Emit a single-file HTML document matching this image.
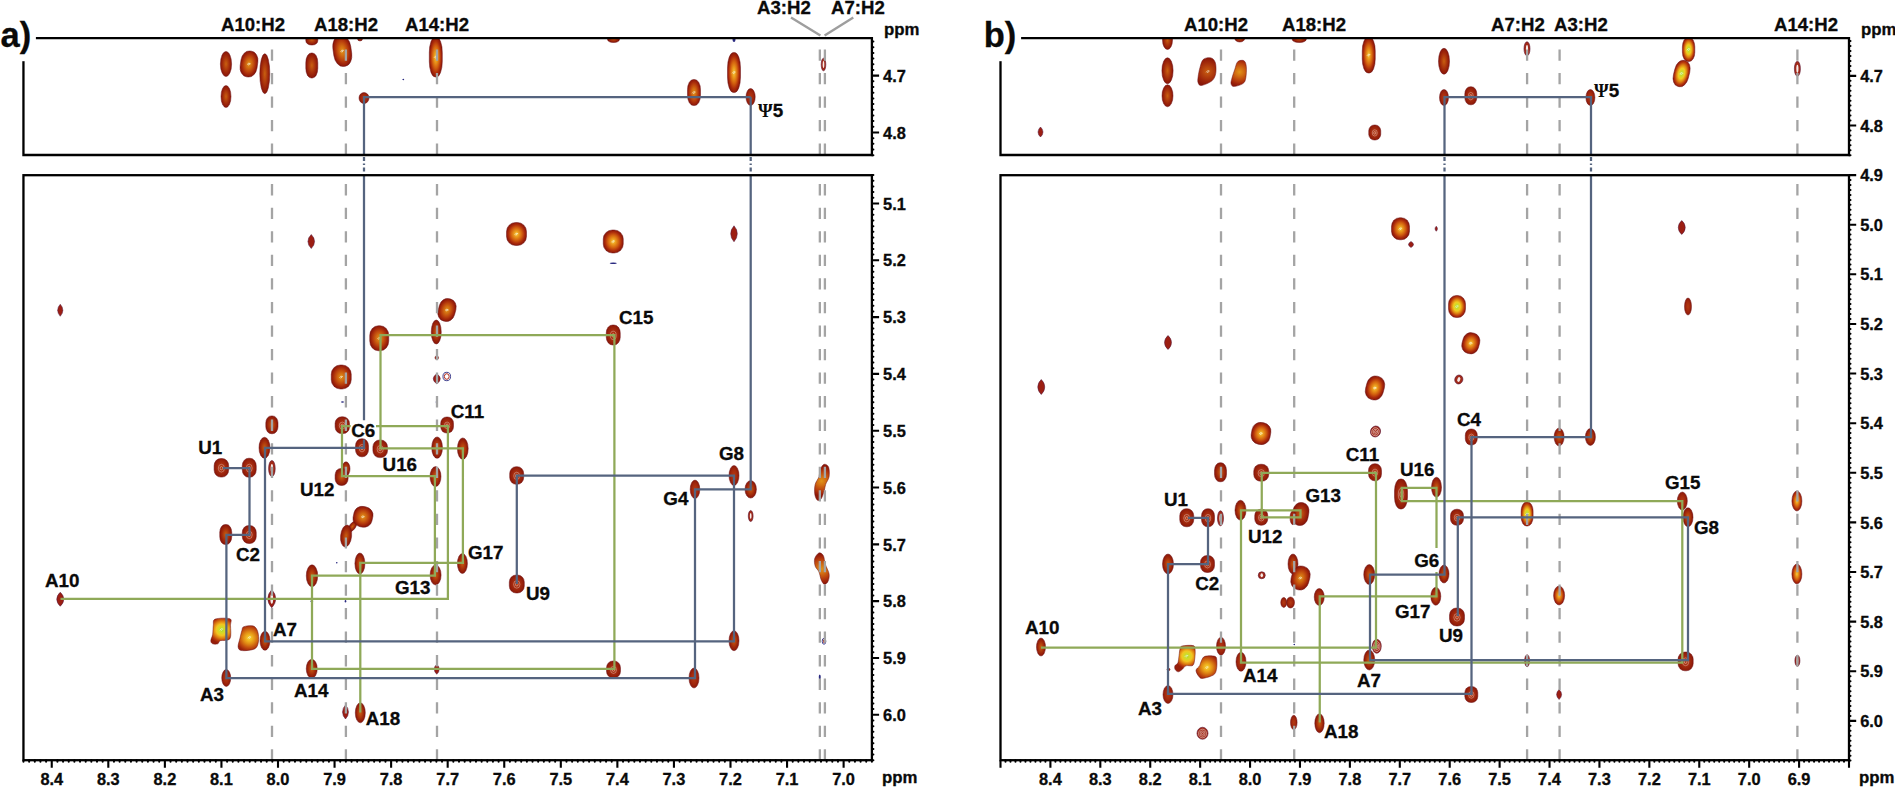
<!DOCTYPE html>
<html lang="en"><head><meta charset="utf-8"><title>NOESY sequential walk</title>
<style>html,body{margin:0;padding:0;background:#fff;}svg{display:block;}text{font-family:"Liberation Sans",sans-serif;font-weight:bold;fill:#0a0a0a;stroke:#0a0a0a;stroke-width:0.3px;}.psi{font-family:"Liberation Serif","DejaVu Serif",serif;font-weight:bold;stroke-width:0;}</style></head><body>
<svg width="1895" height="787" viewBox="0 0 1895 787">
<defs>
<radialGradient id="gd" cx="50%" cy="50%" r="50%"><stop offset="0" stop-color="#b43a12"/><stop offset="0.55" stop-color="#a42a0e"/><stop offset="1" stop-color="#8c1908"/></radialGradient>
<radialGradient id="gm" cx="50%" cy="50%" r="50%"><stop offset="0" stop-color="#c8600f"/><stop offset="0.32" stop-color="#b6440e"/><stop offset="0.7" stop-color="#9e260a"/><stop offset="1" stop-color="#881608"/></radialGradient>
<radialGradient id="go" cx="50%" cy="50%" r="50%"><stop offset="0" stop-color="#e09418"/><stop offset="0.3" stop-color="#d26e12"/><stop offset="0.6" stop-color="#bc440d"/><stop offset="0.85" stop-color="#a0240a"/><stop offset="1" stop-color="#8c1908"/></radialGradient>
<radialGradient id="gb" cx="50%" cy="50%" r="50%"><stop offset="0" stop-color="#f4cc40"/><stop offset="0.25" stop-color="#ea9a1c"/><stop offset="0.55" stop-color="#d2600f"/><stop offset="0.82" stop-color="#ab2a0b"/><stop offset="1" stop-color="#8c1908"/></radialGradient>
<radialGradient id="gy" cx="50%" cy="50%" r="50%"><stop offset="0" stop-color="#a6d628"/><stop offset="0.18" stop-color="#c8de2c"/><stop offset="0.4" stop-color="#f0cc20"/><stop offset="0.62" stop-color="#e08812"/><stop offset="0.85" stop-color="#b8380c"/><stop offset="1" stop-color="#961e0a"/></radialGradient>
<radialGradient id="gy2" cx="50%" cy="50%" r="50%"><stop offset="0" stop-color="#a8d428"/><stop offset="0.2" stop-color="#d0dc28"/><stop offset="0.42" stop-color="#f2c420"/><stop offset="0.62" stop-color="#e08412"/><stop offset="0.85" stop-color="#b8380c"/><stop offset="1" stop-color="#961e0a"/></radialGradient>
<radialGradient id="gb2" cx="50%" cy="50%" r="50%"><stop offset="0" stop-color="#f2d030"/><stop offset="0.2" stop-color="#f0b820"/><stop offset="0.45" stop-color="#e08a14"/><stop offset="0.75" stop-color="#c04a0e"/><stop offset="1" stop-color="#9a200a"/></radialGradient>
</defs>
<rect width="1895" height="787" fill="#fff"/>
<clipPath id="cta"><rect x="23.45" y="38.2" width="848.45" height="116.8"/></clipPath>
<clipPath id="cba"><rect x="23.45" y="175.2" width="848.45" height="585"/></clipPath>
<g clip-path="url(#cta)">
<ellipse cx="226" cy="64" rx="5.6" ry="12.5" fill="url(#gm)" stroke="#6e1218" stroke-width="0.5"/>
<rect x="240.5" y="51" width="17" height="26" rx="7.65" ry="10.14" fill="url(#go)" stroke="#6e1218" stroke-width="0.5" transform="rotate(8 249 64)"/><path d="M247.2 64.8q1.2 -2.6 3.4 -1.2M248.2 65.2l1.6 -1" stroke="#fff" stroke-width="0.7" fill="none" opacity="0.85" transform="rotate(8 249 64)"/>
<ellipse cx="264.8" cy="73.7" rx="5" ry="20" fill="url(#gm)" stroke="#6e1218" stroke-width="0.5"/>
<ellipse cx="226" cy="96.5" rx="5" ry="11" fill="url(#gm)" stroke="#6e1218" stroke-width="0.5"/>
<rect x="305.8" y="34" width="12" height="11" rx="5.4" ry="4.29" fill="url(#gm)" stroke="#6e1218" stroke-width="0.5"/>
<rect x="305.8" y="53" width="12" height="25" rx="5.4" ry="9.75" fill="url(#gm)" stroke="#6e1218" stroke-width="0.5"/>
<rect x="333.3" y="35.5" width="18" height="31" rx="8.1" ry="12.09" fill="url(#go)" stroke="#6e1218" stroke-width="0.5" transform="rotate(-8 342.3 51)"/><path d="M340.5 51.8q1.2 -2.6 3.4 -1.2M341.5 52.2l1.6 -1" stroke="#fff" stroke-width="0.7" fill="none" opacity="0.85" transform="rotate(-8 342.3 51)"/>
<ellipse cx="360" cy="38.5" rx="2.5" ry="2.5" fill="url(#gd)" stroke="#6e1218" stroke-width="0.5"/>
<rect x="429.3" y="37" width="13" height="40" rx="5.85" ry="15.6" fill="url(#gb)" stroke="#6e1218" stroke-width="0.5"/><path d="M434 57.8q1.2 -2.6 3.4 -1.2M435 58.2l1.6 -1" stroke="#fff" stroke-width="0.7" fill="none" opacity="0.85"/>
<ellipse cx="364" cy="98" rx="5" ry="5.5" fill="url(#gd)" stroke="#6e1218" stroke-width="0.5"/>
<ellipse cx="403.3" cy="79.5" rx="0.9" ry="0.7" fill="#2a2a80"/>
<rect x="607.5" y="34.5" width="12" height="8" rx="5.4" ry="3.12" fill="url(#gm)" stroke="#6e1218" stroke-width="0.5"/>
<ellipse cx="734" cy="39" rx="1.5" ry="3" fill="#2a2a80"/>
<rect x="727.5" y="52.5" width="13" height="40" rx="5.85" ry="15.6" fill="url(#gb)" stroke="#6e1218" stroke-width="0.5"/><path d="M732.2 73.3q1.2 -2.6 3.4 -1.2M733.2 73.7l1.6 -1" stroke="#fff" stroke-width="0.7" fill="none" opacity="0.85"/>
<rect x="687.5" y="79.5" width="13" height="26" rx="5.85" ry="10.14" fill="url(#go)" stroke="#6e1218" stroke-width="0.5"/><path d="M692.2 93.3q1.2 -2.6 3.4 -1.2M693.2 93.7l1.6 -1" stroke="#fff" stroke-width="0.7" fill="none" opacity="0.85"/>
<ellipse cx="750.6" cy="97" rx="4.6" ry="8.5" fill="url(#gd)" stroke="#6e1218" stroke-width="0.5"/>
<g><ellipse cx="823.5" cy="64.5" rx="2.3" ry="6.3" fill="#a22a18" stroke="#5a1230" stroke-width="0.6"/><ellipse cx="823.5" cy="64.5" rx="0.83" ry="3.47" fill="#fff" opacity="0.9"/></g>
</g>
<g clip-path="url(#cba)">
<path d="M311.25 234.5Q314.55 237.65 314.55 241.5Q314.55 245.35 311.25 248.5Q307.95 245.35 307.95 241.5Q307.95 237.65 311.25 234.5Z" fill="#9c1e12" stroke="#4a1440" stroke-width="0.5"/>
<path d="M60.25 304.25Q62.85 306.95 62.85 310.25Q62.85 313.55 60.25 316.25Q57.65 313.55 57.65 310.25Q57.65 306.95 60.25 304.25Z" fill="#9c1e12" stroke="#4a1440" stroke-width="0.5"/>
<rect x="438.5" y="298.5" width="17" height="23" rx="7.65" ry="8.97" fill="url(#go)" stroke="#6e1218" stroke-width="0.5" transform="rotate(15 447 310)"/><path d="M445.2 310.8q1.2 -2.6 3.4 -1.2M446.2 311.2l1.6 -1" stroke="#fff" stroke-width="0.7" fill="none" opacity="0.85" transform="rotate(15 447 310)"/>
<ellipse cx="436.25" cy="332" rx="5" ry="12" fill="url(#gm)" stroke="#6e1218" stroke-width="0.5"/>
<rect x="369.75" y="325.75" width="19" height="25" rx="8.55" ry="9.75" fill="url(#go)" stroke="#6e1218" stroke-width="0.5"/><path d="M377.45 339.05q1.2 -2.6 3.4 -1.2M378.45 339.45l1.6 -1" stroke="#fff" stroke-width="0.7" fill="none" opacity="0.85"/>
<rect x="331.25" y="365" width="20" height="24" rx="9" ry="9.36" fill="url(#go)" stroke="#6e1218" stroke-width="0.5"/><path d="M339.45 377.8q1.2 -2.6 3.4 -1.2M340.45 378.2l1.6 -1" stroke="#fff" stroke-width="0.7" fill="none" opacity="0.85"/>
<ellipse cx="436.75" cy="357.75" rx="1.8" ry="1.8" fill="url(#gd)" stroke="#6e1218" stroke-width="0.5"/>
<path d="M436.75 373.75Q440.25 376 440.25 378.75Q440.25 381.5 436.75 383.75Q433.25 381.5 433.25 378.75Q433.25 376 436.75 373.75Z" fill="#9c1e12" stroke="#4a1440" stroke-width="0.5"/>
<g><ellipse cx="446.75" cy="376.5" rx="3.8" ry="4.2" fill="#fff" stroke="#2a2a80" stroke-width="0.9"/><ellipse cx="446.75" cy="376.5" rx="2.4" ry="2.8" fill="#fff" stroke="#b02818" stroke-width="1"/></g>
<rect x="506.5" y="222.5" width="20" height="23" rx="9" ry="8.97" fill="url(#gb)" stroke="#6e1218" stroke-width="0.5"/><path d="M514.7 234.8q1.2 -2.6 3.4 -1.2M515.7 235.2l1.6 -1" stroke="#fff" stroke-width="0.7" fill="none" opacity="0.85"/>
<rect x="603.25" y="230" width="20" height="23" rx="9" ry="8.97" fill="url(#gb)" stroke="#6e1218" stroke-width="0.5"/><path d="M611.45 242.3q1.2 -2.6 3.4 -1.2M612.45 242.7l1.6 -1" stroke="#fff" stroke-width="0.7" fill="none" opacity="0.85"/>
<ellipse cx="613.25" cy="263.25" rx="3.5" ry="0.7" fill="#2a2a80"/>
<path d="M734 225.75Q737.3 229.35 737.3 233.75Q737.3 238.15 734 241.75Q730.7 238.15 730.7 233.75Q730.7 229.35 734 225.75Z" fill="#9c1e12" stroke="#4a1440" stroke-width="0.5"/>
<rect x="606.25" y="325" width="14" height="20" rx="6.3" ry="7.8" fill="url(#gd)" stroke="#6e1218" stroke-width="0.5"/><ellipse cx="613.25" cy="335.4" rx="2.94" ry="4.2" fill="none" stroke="#fff" stroke-width="0.55" opacity="0.6"/><ellipse cx="613.25" cy="335.4" rx="1.26" ry="1.8" fill="none" stroke="#fff" stroke-width="0.55" opacity="0.7"/>
<rect x="265.8" y="415.9" width="12.2" height="17.8" rx="5.49" ry="6.94" fill="url(#gm)" stroke="#6e1218" stroke-width="0.5"/>
<rect x="335.1" y="416.8" width="14.4" height="16.8" rx="6.48" ry="6.55" fill="url(#gd)" stroke="#6e1218" stroke-width="0.5"/><ellipse cx="342.3" cy="425.6" rx="3.02" ry="3.53" fill="none" stroke="#fff" stroke-width="0.55" opacity="0.6"/><ellipse cx="342.3" cy="425.6" rx="1.3" ry="1.51" fill="none" stroke="#fff" stroke-width="0.55" opacity="0.7"/>
<rect x="440.7" y="417" width="12.8" height="16" rx="5.76" ry="6.24" fill="url(#gd)" stroke="#6e1218" stroke-width="0.5"/><ellipse cx="447.1" cy="425.4" rx="2.69" ry="3.36" fill="none" stroke="#fff" stroke-width="0.55" opacity="0.6"/><ellipse cx="447.1" cy="425.4" rx="1.15" ry="1.44" fill="none" stroke="#fff" stroke-width="0.55" opacity="0.7"/>
<ellipse cx="264.5" cy="447.75" rx="5.5" ry="10.5" fill="url(#gm)" stroke="#6e1218" stroke-width="0.5"/>
<rect x="355.5" y="438.75" width="13" height="18" rx="5.85" ry="7.02" fill="url(#gd)" stroke="#6e1218" stroke-width="0.5"/><ellipse cx="362" cy="448.15" rx="2.73" ry="3.78" fill="none" stroke="#fff" stroke-width="0.55" opacity="0.6"/><ellipse cx="362" cy="448.15" rx="1.17" ry="1.62" fill="none" stroke="#fff" stroke-width="0.55" opacity="0.7"/>
<rect x="372.9" y="440" width="14.6" height="17.6" rx="6.57" ry="6.86" fill="url(#gd)" stroke="#6e1218" stroke-width="0.5"/><ellipse cx="380.2" cy="449.2" rx="3.07" ry="3.7" fill="none" stroke="#fff" stroke-width="0.55" opacity="0.6"/><ellipse cx="380.2" cy="449.2" rx="1.31" ry="1.58" fill="none" stroke="#fff" stroke-width="0.55" opacity="0.7"/>
<ellipse cx="437.1" cy="447.6" rx="5.4" ry="10.7" fill="url(#gm)" stroke="#6e1218" stroke-width="0.5"/>
<ellipse cx="462.8" cy="448.6" rx="5.4" ry="10.7" fill="url(#gm)" stroke="#6e1218" stroke-width="0.5"/>
<rect x="214.1" y="458.5" width="14.6" height="18.6" rx="6.57" ry="7.25" fill="url(#gd)" stroke="#6e1218" stroke-width="0.5"/><ellipse cx="221.4" cy="468.2" rx="3.07" ry="3.91" fill="none" stroke="#fff" stroke-width="0.55" opacity="0.6"/><ellipse cx="221.4" cy="468.2" rx="1.31" ry="1.67" fill="none" stroke="#fff" stroke-width="0.55" opacity="0.7"/>
<rect x="242.25" y="458.25" width="14" height="19" rx="6.3" ry="7.41" fill="url(#gd)" stroke="#6e1218" stroke-width="0.5"/><ellipse cx="249.25" cy="468.15" rx="2.94" ry="3.99" fill="none" stroke="#fff" stroke-width="0.55" opacity="0.6"/><ellipse cx="249.25" cy="468.15" rx="1.26" ry="1.71" fill="none" stroke="#fff" stroke-width="0.55" opacity="0.7"/>
<g><ellipse cx="271.9" cy="468.5" rx="3.3" ry="8" fill="#a22a18" stroke="#5a1230" stroke-width="0.6"/><ellipse cx="271.9" cy="468.5" rx="1.19" ry="4.4" fill="#fff" opacity="0.9"/></g>
<ellipse cx="346" cy="468.8" rx="4" ry="7" fill="url(#gm)" stroke="#6e1218" stroke-width="0.5"/>
<rect x="335.1" y="468.4" width="13" height="17" rx="5.85" ry="6.63" fill="url(#gm)" stroke="#6e1218" stroke-width="0.5"/>
<ellipse cx="435.5" cy="476.6" rx="5.5" ry="10" fill="url(#gm)" stroke="#6e1218" stroke-width="0.5"/>
<ellipse cx="352.5" cy="526.5" rx="3" ry="6" fill="url(#gm)" stroke="#6e1218" stroke-width="0.5" transform="rotate(35 352.5 526.5)"/>
<rect x="353.4" y="506.5" width="19.2" height="20.6" rx="8.64" ry="8.03" fill="url(#go)" stroke="#6e1218" stroke-width="0.5" transform="rotate(12 363 516.8)"/><path d="M361.2 517.6q1.2 -2.6 3.4 -1.2M362.2 518l1.6 -1" stroke="#fff" stroke-width="0.7" fill="none" opacity="0.85" transform="rotate(12 363 516.8)"/>
<ellipse cx="346.1" cy="536" rx="5.5" ry="11" fill="url(#gm)" stroke="#6e1218" stroke-width="0.5" transform="rotate(6 346.1 536)"/>
<rect x="219.75" y="524.5" width="12" height="20" rx="5.4" ry="7.8" fill="url(#gm)" stroke="#6e1218" stroke-width="0.5"/>
<rect x="242.25" y="525.5" width="14" height="18" rx="6.3" ry="7.02" fill="url(#gd)" stroke="#6e1218" stroke-width="0.5"/><ellipse cx="249.25" cy="534.9" rx="2.94" ry="3.78" fill="none" stroke="#fff" stroke-width="0.55" opacity="0.6"/><ellipse cx="249.25" cy="534.9" rx="1.26" ry="1.62" fill="none" stroke="#fff" stroke-width="0.55" opacity="0.7"/>
<ellipse cx="359.9" cy="563.5" rx="5" ry="10.5" fill="url(#gm)" stroke="#6e1218" stroke-width="0.5"/>
<ellipse cx="462.4" cy="563.5" rx="5" ry="10" fill="url(#gm)" stroke="#6e1218" stroke-width="0.5"/>
<ellipse cx="312" cy="575.8" rx="5.7" ry="11" fill="url(#gm)" stroke="#6e1218" stroke-width="0.5"/>
<ellipse cx="435.6" cy="575" rx="5.5" ry="10" fill="url(#gm)" stroke="#6e1218" stroke-width="0.5"/>
<ellipse cx="336.75" cy="562.75" rx="0.8" ry="0.8" fill="#2a2a80"/>
<ellipse cx="342.5" cy="402" rx="1.5" ry="0.7" fill="#2a2a80"/>
<ellipse cx="436.75" cy="402" rx="1" ry="1.5" fill="#2a2a80"/>
<path d="M271.75 589.75Q275.75 593.8 275.75 598.75Q275.75 603.7 271.75 607.75Q267.75 603.7 267.75 598.75Q267.75 593.8 271.75 589.75Z" fill="#9c1e12" stroke="#4a1440" stroke-width="0.5"/><ellipse cx="271.75" cy="598.75" rx="1.4" ry="4.95" fill="#fff" opacity="0.9"/>
<rect x="509.7" y="466.7" width="14" height="17.6" rx="6.3" ry="6.86" fill="url(#gd)" stroke="#6e1218" stroke-width="0.5"/><ellipse cx="516.7" cy="475.9" rx="2.94" ry="3.7" fill="none" stroke="#fff" stroke-width="0.55" opacity="0.6"/><ellipse cx="516.7" cy="475.9" rx="1.26" ry="1.58" fill="none" stroke="#fff" stroke-width="0.55" opacity="0.7"/>
<ellipse cx="734" cy="475.5" rx="5" ry="10" fill="url(#gd)" stroke="#6e1218" stroke-width="0.5"/>
<ellipse cx="695" cy="489.3" rx="4.8" ry="9.2" fill="url(#gd)" stroke="#6e1218" stroke-width="0.5"/>
<ellipse cx="750.7" cy="489.3" rx="5.7" ry="8.8" fill="url(#gm)" stroke="#6e1218" stroke-width="0.5"/>
<g><ellipse cx="750.7" cy="516" rx="2.4" ry="5.5" fill="#a22a18" stroke="#5a1230" stroke-width="0.6"/><ellipse cx="750.7" cy="516" rx="0.86" ry="3.03" fill="#fff" opacity="0.9"/></g>
<path d="M824.2 464.3C825.57 463.98 827.78 465.03 828.6 467.1C829.42 469.17 829.58 473.83 829.1 476.7C828.62 479.57 826.52 481.92 825.7 484.3C824.88 486.68 824.98 488.53 824.2 491C823.42 493.47 822.18 497.62 821 499.1C819.82 500.58 818.15 500.78 817.1 499.9C816.05 499.02 815.02 496.4 814.7 493.8C814.38 491.2 814.48 487.15 815.2 484.3C815.92 481.45 818.13 479.25 819 476.7C819.87 474.15 819.53 471.07 820.4 469C821.27 466.93 822.83 464.62 824.2 464.3Z" fill="url(#pg0)" stroke="#6e1218" stroke-width="0.5"/>
<path d="M819 552.9C820.45 552.42 822.35 553.8 823.4 555.7C824.45 557.6 824.35 561.28 825.3 564.3C826.25 567.32 828.65 570.95 829.1 573.8C829.55 576.65 828.82 579.65 828 581.4C827.18 583.15 825.37 584.62 824.2 584.3C823.03 583.98 821.87 581.57 821 579.5C820.13 577.43 819.97 574.12 819 571.9C818.03 569.68 815.92 568.42 815.2 566.2C814.48 563.98 814.07 560.82 814.7 558.6C815.33 556.38 817.55 553.38 819 552.9Z" fill="url(#pg1)" stroke="#6e1218" stroke-width="0.5"/>
<rect x="509.3" y="575" width="15" height="18" rx="6.75" ry="7.02" fill="url(#gd)" stroke="#6e1218" stroke-width="0.5"/><ellipse cx="516.8" cy="584.4" rx="3.15" ry="3.78" fill="none" stroke="#fff" stroke-width="0.55" opacity="0.6"/><ellipse cx="516.8" cy="584.4" rx="1.35" ry="1.62" fill="none" stroke="#fff" stroke-width="0.55" opacity="0.7"/>
<path d="M60.25 592.25Q63.75 595.4 63.75 599.25Q63.75 603.1 60.25 606.25Q56.75 603.1 56.75 599.25Q56.75 595.4 60.25 592.25Z" fill="#9c1e12" stroke="#4a1440" stroke-width="0.5"/>
<path d="M215.2 619.1C217.97 618 227.35 617.75 229.9 618.8C232.45 619.85 230.5 622.07 230.5 625.4C230.5 628.73 231.6 636.25 229.9 638.8C228.2 641.35 222.32 639.87 220.3 640.7C218.28 641.53 219.07 643.28 217.8 643.8C216.53 644.32 213.87 644.32 212.7 643.8C211.53 643.28 210.8 642.28 210.8 640.7C210.8 639.12 212.28 636.85 212.7 634.3C213.12 631.75 212.88 627.93 213.3 625.4C213.72 622.87 212.43 620.2 215.2 619.1Z" fill="url(#pg2)" stroke="#6e1218" stroke-width="0.5"/><path d="M219.8 630.3q1.2 -2.6 3.4 -1.2M220.8 630.7l1.6 -1" stroke="#fff" stroke-width="0.7" fill="none" opacity="0.85"/>
<path d="M243.8 626.7C245.72 625.95 251.07 625.15 253.4 626C255.73 626.85 256.97 629.15 257.8 631.8C258.63 634.45 258.93 639.05 258.4 641.9C257.87 644.75 257.35 647.45 254.6 648.9C251.85 650.35 244.65 650.92 241.9 650.6C239.15 650.28 238.42 649.08 238.1 647C237.78 644.92 239.37 640.85 240 638.1C240.63 635.35 241.27 632.4 241.9 630.5C242.53 628.6 241.88 627.45 243.8 626.7Z" fill="url(#pg3)" stroke="#6e1218" stroke-width="0.5"/><path d="M247.7 638.3q1.2 -2.6 3.4 -1.2M248.7 638.7l1.6 -1" stroke="#fff" stroke-width="0.7" fill="none" opacity="0.85"/>
<ellipse cx="265" cy="640.75" rx="5" ry="9.5" fill="url(#gm)" stroke="#6e1218" stroke-width="0.5"/>
<ellipse cx="311.75" cy="668.75" rx="5.5" ry="9.5" fill="url(#gm)" stroke="#6e1218" stroke-width="0.5"/>
<ellipse cx="226.25" cy="678" rx="4.5" ry="8.5" fill="url(#gd)" stroke="#6e1218" stroke-width="0.5"/>
<ellipse cx="360.3" cy="712.8" rx="5" ry="10" fill="url(#gm)" stroke="#6e1218" stroke-width="0.5"/>
<path d="M345.5 705Q348.5 708.15 348.5 712Q348.5 715.85 345.5 719Q342.5 715.85 342.5 712Q342.5 708.15 345.5 705Z" fill="#9c1e12" stroke="#4a1440" stroke-width="0.5"/>
<path d="M436.75 664.25Q439.25 666.5 439.25 669.25Q439.25 672 436.75 674.25Q434.25 672 434.25 669.25Q434.25 666.5 436.75 664.25Z" fill="#9c1e12" stroke="#4a1440" stroke-width="0.5"/>
<ellipse cx="311.75" cy="601.25" rx="1.5" ry="0.7" fill="#2a2a80"/>
<ellipse cx="345.5" cy="601.25" rx="0.8" ry="1.2" fill="#2a2a80"/>
<rect x="606.5" y="661" width="14" height="17" rx="6.3" ry="6.63" fill="url(#gd)" stroke="#6e1218" stroke-width="0.5"/><ellipse cx="613.5" cy="669.9" rx="2.94" ry="3.57" fill="none" stroke="#fff" stroke-width="0.55" opacity="0.6"/><ellipse cx="613.5" cy="669.9" rx="1.26" ry="1.53" fill="none" stroke="#fff" stroke-width="0.55" opacity="0.7"/>
<ellipse cx="734" cy="640.75" rx="5" ry="10" fill="url(#gm)" stroke="#6e1218" stroke-width="0.5"/>
<ellipse cx="694" cy="678" rx="5" ry="10" fill="url(#gd)" stroke="#6e1218" stroke-width="0.5"/>
<g><ellipse cx="824" cy="641.25" rx="1.8" ry="3" fill="#fff" stroke="#2a2a80" stroke-width="0.9"/><ellipse cx="824" cy="641.25" rx="0.5" ry="1.6" fill="#fff" stroke="#b02818" stroke-width="1"/></g>
<ellipse cx="819.75" cy="677" rx="1" ry="2.5" fill="#2a2a80"/>
</g>
<g stroke="#a4a4a4" stroke-width="2.3" fill="none">
<path d="M272.0 49.4V60.7M272.0 73.0V84.2M272.0 96.5V107.8M272.0 120.0V131.3M272.0 143.6V154.9M272.0 184.1V195.4M272.0 207.7V219.0M272.0 231.2V242.5M272.0 254.8V266.1M272.0 278.3V289.6M272.0 301.9V313.2M272.0 325.4V336.7M272.0 349.0V360.3M272.0 372.5V383.8M272.0 396.1V407.4M272.0 419.6V430.9M272.0 443.2V454.5M272.0 466.7V478.0M272.0 490.3V501.6M272.0 513.8V525.1M272.0 537.4V548.6M272.0 560.9V572.2M272.0 584.4V595.7M272.0 608.0V619.3M272.0 631.5V642.8M272.0 655.1V666.4M272.0 678.6V689.9M272.0 702.2V713.5M272.0 725.7V737.0M272.0 749.3V760.2"/>
<path d="M345.9 49.4V60.7M345.9 73.0V84.2M345.9 96.5V107.8M345.9 120.0V131.3M345.9 143.6V154.9M345.9 184.1V195.4M345.9 207.7V219.0M345.9 231.2V242.5M345.9 254.8V266.1M345.9 278.3V289.6M345.9 301.9V313.2M345.9 325.4V336.7M345.9 349.0V360.3M345.9 372.5V383.8M345.9 396.1V407.4M345.9 419.6V430.9M345.9 443.2V454.5M345.9 466.7V478.0M345.9 490.3V501.6M345.9 513.8V525.1M345.9 537.4V548.6M345.9 560.9V572.2M345.9 584.4V595.7M345.9 608.0V619.3M345.9 631.5V642.8M345.9 655.1V666.4M345.9 678.6V689.9M345.9 702.2V713.5M345.9 725.7V737.0M345.9 749.3V760.2"/>
<path d="M437.0 49.4V60.7M437.0 73.0V84.2M437.0 96.5V107.8M437.0 120.0V131.3M437.0 143.6V154.9M437.0 184.1V195.4M437.0 207.7V219.0M437.0 231.2V242.5M437.0 254.8V266.1M437.0 278.3V289.6M437.0 301.9V313.2M437.0 325.4V336.7M437.0 349.0V360.3M437.0 372.5V383.8M437.0 396.1V407.4M437.0 419.6V430.9M437.0 443.2V454.5M437.0 466.7V478.0M437.0 490.3V501.6M437.0 513.8V525.1M437.0 537.4V548.6M437.0 560.9V572.2M437.0 584.4V595.7M437.0 608.0V619.3M437.0 631.5V642.8M437.0 655.1V666.4M437.0 678.6V689.9M437.0 702.2V713.5M437.0 725.7V737.0M437.0 749.3V760.2"/>
<path d="M819.85 49.4V60.7M819.85 73.0V84.2M819.85 96.5V107.8M819.85 120.0V131.3M819.85 143.6V154.9M819.85 184.1V195.4M819.85 207.7V219.0M819.85 231.2V242.5M819.85 254.8V266.1M819.85 278.3V289.6M819.85 301.9V313.2M819.85 325.4V336.7M819.85 349.0V360.3M819.85 372.5V383.8M819.85 396.1V407.4M819.85 419.6V430.9M819.85 443.2V454.5M819.85 466.7V478.0M819.85 490.3V501.6M819.85 513.8V525.1M819.85 537.4V548.6M819.85 560.9V572.2M819.85 584.4V595.7M819.85 608.0V619.3M819.85 631.5V642.8M819.85 655.1V666.4M819.85 678.6V689.9M819.85 702.2V713.5M819.85 725.7V737.0M819.85 749.3V760.2"/>
<path d="M824.9 49.4V60.7M824.9 73.0V84.2M824.9 96.5V107.8M824.9 120.0V131.3M824.9 143.6V154.9M824.9 184.1V195.4M824.9 207.7V219.0M824.9 231.2V242.5M824.9 254.8V266.1M824.9 278.3V289.6M824.9 301.9V313.2M824.9 325.4V336.7M824.9 349.0V360.3M824.9 372.5V383.8M824.9 396.1V407.4M824.9 419.6V430.9M824.9 443.2V454.5M824.9 466.7V478.0M824.9 490.3V501.6M824.9 513.8V525.1M824.9 537.4V548.6M824.9 560.9V572.2M824.9 584.4V595.7M824.9 608.0V619.3M824.9 631.5V642.8M824.9 655.1V666.4M824.9 678.6V689.9M824.9 702.2V713.5M824.9 725.7V737.0M824.9 749.3V760.2"/>
</g>
<path d="M791 17.6L820.4 35.6M853.3 17.6L824.6 35.6" stroke="#9e9e9e" stroke-width="2.4" fill="none"/>
<g stroke="#8fa958" stroke-width="2.25" fill="none" stroke-linejoin="miter">
<path d="M60.5 598.75H447.9V426H376M350.7 426H342V476.1H434.9V575.7H312V668.75H614.4V335H380.5V448.3H462.9V562.75H360.3V712.5"/>
</g>
<g stroke="#55647f" stroke-width="2.25" fill="none" stroke-linejoin="miter">
<path d="M222.9 468H249.5V534.9H226.4V678H695V489.3H750.7V175.2"/>
<path d="M750.7 97.2V155"/>
<path d="M750.7 97.2H364V155"/>
<path d="M364 175.2V420.3M364 439.4V447.8H265V641.25H734V475.5H516.8V584"/>
</g>
<path d="M364 157V172M750.7 157V172" stroke="#55647f" stroke-width="2.25" stroke-dasharray="4 2.5 1.5 2.5" fill="none"/>
<g stroke="#000" stroke-width="2.3" fill="none" stroke-linecap="butt">
<path d="M23.45 37.050000000000004V155H871.9V38.2H23.45"/>
<rect x="23.45" y="175.2" width="848.45" height="585"/>
</g>
<path d="M871.9 75.66h7.2M871.9 132.47h7.2M871.9 203.46h7.2M871.9 260.28h7.2M871.9 317.09h7.2M871.9 373.91h7.2M871.9 430.72h7.2M871.9 487.53h7.2M871.9 544.35h7.2M871.9 601.17h7.2M871.9 657.98h7.2M871.9 714.80h7.2" stroke="#000" stroke-width="2.1" fill="none"/>
<path d="M871.9 41.57h1.5M871.9 47.25h1.5M871.9 52.93h1.5M871.9 58.62h1.5M871.9 64.30h1.5M871.9 69.98h1.5M871.9 81.34h1.5M871.9 87.02h1.5M871.9 92.70h1.5M871.9 98.39h1.5M871.9 104.07h1.5M871.9 109.75h1.5M871.9 115.43h1.5M871.9 121.11h1.5M871.9 126.79h1.5M871.9 138.16h1.5M871.9 143.84h1.5M871.9 149.52h1.5M871.9 155.20h1.5M871.9 175.05h1.5M871.9 180.73h1.5M871.9 186.42h1.5M871.9 192.10h1.5M871.9 197.78h1.5M871.9 209.14h1.5M871.9 214.82h1.5M871.9 220.50h1.5M871.9 226.19h1.5M871.9 231.87h1.5M871.9 237.55h1.5M871.9 243.23h1.5M871.9 248.91h1.5M871.9 254.59h1.5M871.9 265.96h1.5M871.9 271.64h1.5M871.9 277.32h1.5M871.9 283.00h1.5M871.9 288.68h1.5M871.9 294.36h1.5M871.9 300.05h1.5M871.9 305.73h1.5M871.9 311.41h1.5M871.9 322.77h1.5M871.9 328.45h1.5M871.9 334.13h1.5M871.9 339.82h1.5M871.9 345.50h1.5M871.9 351.18h1.5M871.9 356.86h1.5M871.9 362.54h1.5M871.9 368.22h1.5M871.9 379.59h1.5M871.9 385.27h1.5M871.9 390.95h1.5M871.9 396.63h1.5M871.9 402.31h1.5M871.9 407.99h1.5M871.9 413.68h1.5M871.9 419.36h1.5M871.9 425.04h1.5M871.9 436.40h1.5M871.9 442.08h1.5M871.9 447.76h1.5M871.9 453.45h1.5M871.9 459.13h1.5M871.9 464.81h1.5M871.9 470.49h1.5M871.9 476.17h1.5M871.9 481.85h1.5M871.9 493.22h1.5M871.9 498.90h1.5M871.9 504.58h1.5M871.9 510.26h1.5M871.9 515.94h1.5M871.9 521.62h1.5M871.9 527.31h1.5M871.9 532.99h1.5M871.9 538.67h1.5M871.9 550.03h1.5M871.9 555.71h1.5M871.9 561.39h1.5M871.9 567.08h1.5M871.9 572.76h1.5M871.9 578.44h1.5M871.9 584.12h1.5M871.9 589.80h1.5M871.9 595.48h1.5M871.9 606.85h1.5M871.9 612.53h1.5M871.9 618.21h1.5M871.9 623.89h1.5M871.9 629.57h1.5M871.9 635.25h1.5M871.9 640.94h1.5M871.9 646.62h1.5M871.9 652.30h1.5M871.9 663.66h1.5M871.9 669.34h1.5M871.9 675.02h1.5M871.9 680.71h1.5M871.9 686.39h1.5M871.9 692.07h1.5M871.9 697.75h1.5M871.9 703.43h1.5M871.9 709.11h1.5M871.9 720.48h1.5M871.9 726.16h1.5M871.9 731.84h1.5M871.9 737.52h1.5M871.9 743.20h1.5M871.9 748.88h1.5M871.9 754.57h1.5M871.9 760.25h1.5" stroke="#000" stroke-width="2" stroke-linecap="round" fill="none"/>
<path d="M843.62 760.2v7.6M787.06 760.2v7.6M730.49 760.2v7.6M673.93 760.2v7.6M617.37 760.2v7.6M560.81 760.2v7.6M504.25 760.2v7.6M447.68 760.2v7.6M391.12 760.2v7.6M334.56 760.2v7.6M278.00 760.2v7.6M221.44 760.2v7.6M164.88 760.2v7.6M108.31 760.2v7.6M51.75 760.2v7.6" stroke="#000" stroke-width="2.1" fill="none"/>
<path d="M871.90 760.2v1.5M866.24 760.2v1.5M860.59 760.2v1.5M854.93 760.2v1.5M849.28 760.2v1.5M837.96 760.2v1.5M832.31 760.2v1.5M826.65 760.2v1.5M820.99 760.2v1.5M815.34 760.2v1.5M809.68 760.2v1.5M804.03 760.2v1.5M798.37 760.2v1.5M792.71 760.2v1.5M781.40 760.2v1.5M775.74 760.2v1.5M770.09 760.2v1.5M764.43 760.2v1.5M758.78 760.2v1.5M753.12 760.2v1.5M747.46 760.2v1.5M741.81 760.2v1.5M736.15 760.2v1.5M724.84 760.2v1.5M719.18 760.2v1.5M713.53 760.2v1.5M707.87 760.2v1.5M702.21 760.2v1.5M696.56 760.2v1.5M690.90 760.2v1.5M685.25 760.2v1.5M679.59 760.2v1.5M668.28 760.2v1.5M662.62 760.2v1.5M656.96 760.2v1.5M651.31 760.2v1.5M645.65 760.2v1.5M640.00 760.2v1.5M634.34 760.2v1.5M628.68 760.2v1.5M623.03 760.2v1.5M611.71 760.2v1.5M606.06 760.2v1.5M600.40 760.2v1.5M594.75 760.2v1.5M589.09 760.2v1.5M583.43 760.2v1.5M577.78 760.2v1.5M572.12 760.2v1.5M566.47 760.2v1.5M555.15 760.2v1.5M549.50 760.2v1.5M543.84 760.2v1.5M538.18 760.2v1.5M532.53 760.2v1.5M526.87 760.2v1.5M521.22 760.2v1.5M515.56 760.2v1.5M509.90 760.2v1.5M498.59 760.2v1.5M492.93 760.2v1.5M487.28 760.2v1.5M481.62 760.2v1.5M475.97 760.2v1.5M470.31 760.2v1.5M464.65 760.2v1.5M459.00 760.2v1.5M453.34 760.2v1.5M442.03 760.2v1.5M436.37 760.2v1.5M430.72 760.2v1.5M425.06 760.2v1.5M419.40 760.2v1.5M413.75 760.2v1.5M408.09 760.2v1.5M402.44 760.2v1.5M396.78 760.2v1.5M385.47 760.2v1.5M379.81 760.2v1.5M374.15 760.2v1.5M368.50 760.2v1.5M362.84 760.2v1.5M357.19 760.2v1.5M351.53 760.2v1.5M345.87 760.2v1.5M340.22 760.2v1.5M328.90 760.2v1.5M323.25 760.2v1.5M317.59 760.2v1.5M311.94 760.2v1.5M306.28 760.2v1.5M300.62 760.2v1.5M294.97 760.2v1.5M289.31 760.2v1.5M283.66 760.2v1.5M272.34 760.2v1.5M266.69 760.2v1.5M261.03 760.2v1.5M255.37 760.2v1.5M249.72 760.2v1.5M244.06 760.2v1.5M238.41 760.2v1.5M232.75 760.2v1.5M227.09 760.2v1.5M215.78 760.2v1.5M210.12 760.2v1.5M204.47 760.2v1.5M198.81 760.2v1.5M193.16 760.2v1.5M187.50 760.2v1.5M181.84 760.2v1.5M176.19 760.2v1.5M170.53 760.2v1.5M159.22 760.2v1.5M153.56 760.2v1.5M147.91 760.2v1.5M142.25 760.2v1.5M136.59 760.2v1.5M130.94 760.2v1.5M125.28 760.2v1.5M119.63 760.2v1.5M113.97 760.2v1.5M102.66 760.2v1.5M97.00 760.2v1.5M91.34 760.2v1.5M85.69 760.2v1.5M80.03 760.2v1.5M74.38 760.2v1.5M68.72 760.2v1.5M63.06 760.2v1.5M57.41 760.2v1.5M46.09 760.2v1.5M40.44 760.2v1.5M34.78 760.2v1.5M29.13 760.2v1.5M23.47 760.2v1.5" stroke="#000" stroke-width="2" stroke-linecap="round" fill="none"/>
<g font-size="16.4" text-anchor="middle">
<text x="843.6" y="784.9">7.0</text>
<text x="787.1" y="784.9">7.1</text>
<text x="730.5" y="784.9">7.2</text>
<text x="673.9" y="784.9">7.3</text>
<text x="617.4" y="784.9">7.4</text>
<text x="560.8" y="784.9">7.5</text>
<text x="504.2" y="784.9">7.6</text>
<text x="447.7" y="784.9">7.7</text>
<text x="391.1" y="784.9">7.8</text>
<text x="334.6" y="784.9">7.9</text>
<text x="278.0" y="784.9">8.0</text>
<text x="221.4" y="784.9">8.1</text>
<text x="164.9" y="784.9">8.2</text>
<text x="108.3" y="784.9">8.3</text>
<text x="51.8" y="784.9">8.4</text>
</g>
<g font-size="16.4" text-anchor="start">
<text x="883.1" y="81.8">4.7</text>
<text x="883.1" y="138.6">4.8</text>
<text x="883.1" y="209.6">5.1</text>
<text x="883.1" y="266.4">5.2</text>
<text x="883.1" y="323.2">5.3</text>
<text x="883.1" y="380.0">5.4</text>
<text x="883.1" y="436.8">5.5</text>
<text x="883.1" y="493.6">5.6</text>
<text x="883.1" y="550.5">5.7</text>
<text x="883.1" y="607.3">5.8</text>
<text x="883.1" y="664.1">5.9</text>
<text x="883.1" y="720.9">6.0</text>
</g>
<rect x="0" y="18" width="35.9" height="43.2" fill="#fff"/>
<text x="0.5" y="47.4" font-size="34.5">a)</text>
<text x="221" y="31" font-size="18.6">A10:H2</text>
<text x="314" y="31" font-size="18.6">A18:H2</text>
<text x="405" y="31" font-size="18.6">A14:H2</text>
<text x="757" y="14" font-size="18.6">A3:H2</text>
<text x="831" y="14" font-size="18.6">A7:H2</text>
<text x="884" y="34.5" font-size="16.8">ppm</text>
<text x="882" y="783.4" font-size="16.8">ppm</text>
<text x="758" y="117" font-size="18.8"><tspan class="psi" font-size="18.8">Ψ</tspan>5</text>
<text x="619" y="324" font-size="18.8">C15</text>
<text x="450.8" y="417.5" font-size="18.8">C11</text>
<text x="351.3" y="436.6" font-size="18.8">C6</text>
<text x="198.2" y="454" font-size="18.8">U1</text>
<text x="382.6" y="471.4" font-size="18.8">U16</text>
<text x="300" y="495.5" font-size="18.8">U12</text>
<text x="236" y="561" font-size="18.8">C2</text>
<text x="468" y="559" font-size="18.8">G17</text>
<text x="395" y="594" font-size="18.8">G13</text>
<text x="45" y="587" font-size="18.8">A10</text>
<text x="273" y="636" font-size="18.8">A7</text>
<text x="294" y="697" font-size="18.8">A14</text>
<text x="200" y="701" font-size="18.8">A3</text>
<text x="365.8" y="725" font-size="18.8">A18</text>
<text x="526" y="600" font-size="18.8">U9</text>
<text x="719" y="460.2" font-size="18.8">G8</text>
<text x="663.3" y="504.6" font-size="18.8">G4</text>
<clipPath id="ctb"><rect x="1000.5" y="38.2" width="848.5" height="116.8"/></clipPath>
<clipPath id="cbb"><rect x="1000.5" y="175.2" width="848.5" height="585"/></clipPath>
<g clip-path="url(#ctb)">
<ellipse cx="1167.5" cy="40" rx="5" ry="9.5" fill="url(#gm)" stroke="#6e1218" stroke-width="0.5"/>
<ellipse cx="1167.5" cy="70.75" rx="5.6" ry="13" fill="url(#gm)" stroke="#6e1218" stroke-width="0.5"/>
<ellipse cx="1167.5" cy="95.75" rx="5.5" ry="11" fill="url(#gm)" stroke="#6e1218" stroke-width="0.5"/>
<path d="M1203.4 59.3C1205.23 57.72 1209.02 57.35 1211 57.9C1212.98 58.45 1214.5 60.07 1215.3 62.6C1216.1 65.13 1216.35 70.07 1215.8 73.1C1215.25 76.13 1214.38 78.73 1212 80.8C1209.62 82.87 1203.82 85.18 1201.5 85.5C1199.18 85.82 1198.67 84.13 1198.1 82.7C1197.53 81.27 1197.78 79.45 1198.1 76.9C1198.42 74.35 1199.12 70.33 1200 67.4C1200.88 64.47 1201.57 60.88 1203.4 59.3Z" fill="url(#pg4)" stroke="#6e1218" stroke-width="0.5"/><path d="M1206.2 72.3q1.2 -2.6 3.4 -1.2M1207.2 72.7l1.6 -1" stroke="#fff" stroke-width="0.7" fill="none" opacity="0.85"/>
<path d="M1237.7 61.7C1239.22 60.27 1242.47 59.9 1243.9 60.7C1245.33 61.5 1245.98 63.63 1246.3 66.5C1246.62 69.37 1246.37 75.05 1245.8 77.9C1245.23 80.75 1244.88 82.17 1242.9 83.6C1240.92 85.03 1235.88 86.5 1233.9 86.5C1231.92 86.5 1231.32 85.03 1231 83.6C1230.68 82.17 1231.37 80.28 1232 77.9C1232.63 75.52 1233.85 72 1234.8 69.3C1235.75 66.6 1236.18 63.13 1237.7 61.7Z" fill="url(#pg5)" stroke="#6e1218" stroke-width="0.5"/>
<ellipse cx="1239.75" cy="38.5" rx="5" ry="3.5" fill="url(#gm)" stroke="#6e1218" stroke-width="0.5"/>
<rect x="1292.25" y="34.5" width="14" height="8" rx="6.3" ry="3.12" fill="url(#gm)" stroke="#6e1218" stroke-width="0.5"/>
<rect x="1362.25" y="37" width="13" height="36" rx="5.85" ry="14.04" fill="url(#gb)" stroke="#6e1218" stroke-width="0.5"/><path d="M1366.95 55.8q1.2 -2.6 3.4 -1.2M1367.95 56.2l1.6 -1" stroke="#fff" stroke-width="0.7" fill="none" opacity="0.85"/>
<path d="M1040.5 127Q1043 129.25 1043 132Q1043 134.75 1040.5 137Q1038 134.75 1038 132Q1038 129.25 1040.5 127Z" fill="#9c1e12" stroke="#4a1440" stroke-width="0.5"/>
<rect x="1368.75" y="125" width="12" height="15" rx="5.4" ry="5.85" fill="url(#gd)" stroke="#6e1218" stroke-width="0.5"/><ellipse cx="1374.75" cy="132.9" rx="2.52" ry="3.15" fill="none" stroke="#fff" stroke-width="0.55" opacity="0.6"/><ellipse cx="1374.75" cy="132.9" rx="1.08" ry="1.35" fill="none" stroke="#fff" stroke-width="0.55" opacity="0.7"/>
<ellipse cx="1444" cy="61.25" rx="5.5" ry="13" fill="url(#gm)" stroke="#6e1218" stroke-width="0.5"/>
<ellipse cx="1444" cy="97.5" rx="4.5" ry="8" fill="url(#gd)" stroke="#6e1218" stroke-width="0.5"/>
<rect x="1464.8" y="86.75" width="12" height="18" rx="5.4" ry="7.02" fill="url(#gd)" stroke="#6e1218" stroke-width="0.5"/><ellipse cx="1470.8" cy="96.15" rx="2.52" ry="3.78" fill="none" stroke="#fff" stroke-width="0.55" opacity="0.6"/><ellipse cx="1470.8" cy="96.15" rx="1.08" ry="1.62" fill="none" stroke="#fff" stroke-width="0.55" opacity="0.7"/>
<g><ellipse cx="1527" cy="48.75" rx="3" ry="7" fill="#a22a18" stroke="#5a1230" stroke-width="0.6"/><ellipse cx="1527" cy="48.75" rx="1.08" ry="3.85" fill="#fff" opacity="0.9"/></g>
<ellipse cx="1590.4" cy="97.5" rx="4.5" ry="8" fill="url(#gd)" stroke="#6e1218" stroke-width="0.5"/>
<rect x="1682.4" y="37.5" width="12.4" height="24" rx="5.58" ry="9.36" fill="url(#gy)" stroke="#6e1218" stroke-width="0.5"/><path d="M1686.8 50.3q1.2 -2.6 3.4 -1.2M1687.8 50.7l1.6 -1" stroke="#fff" stroke-width="0.7" fill="none" opacity="0.85"/>
<rect x="1674" y="60.1" width="15.2" height="26.8" rx="6.84" ry="10.45" fill="url(#gy)" stroke="#6e1218" stroke-width="0.5" transform="rotate(14 1681.6 73.5)"/><path d="M1679.8 74.3q1.2 -2.6 3.4 -1.2M1680.8 74.7l1.6 -1" stroke="#fff" stroke-width="0.7" fill="none" opacity="0.85" transform="rotate(14 1681.6 73.5)"/>
<g><ellipse cx="1797.4" cy="68.75" rx="3" ry="7.5" fill="#a22a18" stroke="#5a1230" stroke-width="0.6"/><ellipse cx="1797.4" cy="68.75" rx="1.08" ry="4.12" fill="#fff" opacity="0.9"/></g>
</g>
<g clip-path="url(#cbb)">
<rect x="1391.5" y="217.75" width="18" height="22" rx="8.1" ry="8.58" fill="url(#gb)" stroke="#6e1218" stroke-width="0.5"/><path d="M1398.7 229.55q1.2 -2.6 3.4 -1.2M1399.7 229.95l1.6 -1" stroke="#fff" stroke-width="0.7" fill="none" opacity="0.85"/>
<path d="M1411 241.5Q1413.5 242.85 1413.5 244.5Q1413.5 246.15 1411 247.5Q1408.5 246.15 1408.5 244.5Q1408.5 242.85 1411 241.5Z" fill="#9c1e12" stroke="#4a1440" stroke-width="0.5"/>
<path d="M1168 335.5Q1171.5 338.65 1171.5 342.5Q1171.5 346.35 1168 349.5Q1164.5 346.35 1164.5 342.5Q1164.5 338.65 1168 335.5Z" fill="#9c1e12" stroke="#4a1440" stroke-width="0.5"/>
<path d="M1041.25 379.5Q1044.75 382.88 1044.75 387Q1044.75 391.12 1041.25 394.5Q1037.75 391.12 1037.75 387Q1037.75 382.88 1041.25 379.5Z" fill="#9c1e12" stroke="#4a1440" stroke-width="0.5"/>
<rect x="1366" y="376" width="18" height="24" rx="8.1" ry="9.36" fill="url(#gb)" stroke="#6e1218" stroke-width="0.5" transform="rotate(15 1375 388)"/><path d="M1373.2 388.8q1.2 -2.6 3.4 -1.2M1374.2 389.2l1.6 -1" stroke="#fff" stroke-width="0.7" fill="none" opacity="0.85" transform="rotate(15 1375 388)"/>
<path d="M1436.25 226.25Q1437.45 227.38 1437.45 228.75Q1437.45 230.12 1436.25 231.25Q1435.05 230.12 1435.05 228.75Q1435.05 227.38 1436.25 226.25Z" fill="#9c1e12" stroke="#4a1440" stroke-width="0.5"/>
<path d="M1681.75 220.5Q1685.25 223.65 1685.25 227.5Q1685.25 231.35 1681.75 234.5Q1678.25 231.35 1678.25 227.5Q1678.25 223.65 1681.75 220.5Z" fill="#9c1e12" stroke="#4a1440" stroke-width="0.5"/>
<rect x="1448.5" y="295.5" width="17" height="22" rx="7.65" ry="8.58" fill="url(#gy)" stroke="#6e1218" stroke-width="0.5"/><path d="M1455.2 307.3q1.2 -2.6 3.4 -1.2M1456.2 307.7l1.6 -1" stroke="#fff" stroke-width="0.7" fill="none" opacity="0.85"/>
<rect x="1462.3" y="332.75" width="17" height="21" rx="7.65" ry="8.19" fill="url(#gb)" stroke="#6e1218" stroke-width="0.5" transform="rotate(15 1470.8 343.25)"/><path d="M1469 344.05q1.2 -2.6 3.4 -1.2M1470 344.45l1.6 -1" stroke="#fff" stroke-width="0.7" fill="none" opacity="0.85" transform="rotate(15 1470.8 343.25)"/>
<g transform="rotate(20 1458.8 379.5)"><ellipse cx="1458.8" cy="379.5" rx="4" ry="4.5" fill="#a22a18" stroke="#5a1230" stroke-width="0.6"/><ellipse cx="1458.8" cy="379.5" rx="1.44" ry="2.48" fill="#fff" opacity="0.9"/></g>
<ellipse cx="1688" cy="306.5" rx="3.5" ry="8.5" fill="url(#gd)" stroke="#6e1218" stroke-width="0.5"/>
<rect x="1251.5" y="422.5" width="19" height="22" rx="8.55" ry="8.58" fill="url(#gb)" stroke="#6e1218" stroke-width="0.5" transform="rotate(10 1261 433.5)"/><path d="M1259.2 434.3q1.2 -2.6 3.4 -1.2M1260.2 434.7l1.6 -1" stroke="#fff" stroke-width="0.7" fill="none" opacity="0.85" transform="rotate(10 1261 433.5)"/>
<g transform="rotate(20 1375.5 431.5)"><ellipse cx="1375.5" cy="431.5" rx="5" ry="5.5" fill="#a22a18" stroke="#5a1230" stroke-width="0.6"/><ellipse cx="1375.5" cy="431.8" rx="3.6" ry="3.96" fill="none" stroke="#fff" stroke-width="0.6" opacity="0.75"/><ellipse cx="1375.5" cy="431.8" rx="2.25" ry="2.48" fill="none" stroke="#fff" stroke-width="0.6" opacity="0.75"/><ellipse cx="1375.5" cy="431.8" rx="1" ry="1.1" fill="none" stroke="#fff" stroke-width="0.6" opacity="0.75"/></g>
<rect x="1214.5" y="462.75" width="12" height="19" rx="5.4" ry="7.41" fill="url(#gm)" stroke="#6e1218" stroke-width="0.5"/>
<rect x="1253.75" y="464.25" width="15" height="17" rx="6.75" ry="6.63" fill="url(#gd)" stroke="#6e1218" stroke-width="0.5"/><ellipse cx="1261.25" cy="473.15" rx="3.15" ry="3.57" fill="none" stroke="#fff" stroke-width="0.55" opacity="0.6"/><ellipse cx="1261.25" cy="473.15" rx="1.35" ry="1.53" fill="none" stroke="#fff" stroke-width="0.55" opacity="0.7"/>
<rect x="1368.5" y="463.75" width="13" height="17" rx="5.85" ry="6.63" fill="url(#gd)" stroke="#6e1218" stroke-width="0.5"/><ellipse cx="1375" cy="472.65" rx="2.73" ry="3.57" fill="none" stroke="#fff" stroke-width="0.55" opacity="0.6"/><ellipse cx="1375" cy="472.65" rx="1.17" ry="1.53" fill="none" stroke="#fff" stroke-width="0.55" opacity="0.7"/>
<rect x="1394.5" y="479" width="13" height="30" rx="5.85" ry="11.7" fill="url(#gd)" stroke="#6e1218" stroke-width="0.5"/><ellipse cx="1401" cy="494.4" rx="2.73" ry="6.3" fill="none" stroke="#fff" stroke-width="0.55" opacity="0.6"/><ellipse cx="1401" cy="494.4" rx="1.17" ry="2.7" fill="none" stroke="#fff" stroke-width="0.55" opacity="0.7"/>
<ellipse cx="1240.5" cy="510.25" rx="5.5" ry="10" fill="url(#gm)" stroke="#6e1218" stroke-width="0.5"/>
<rect x="1292.5" y="502.5" width="16" height="23" rx="7.2" ry="8.97" fill="url(#gm)" stroke="#6e1218" stroke-width="0.5" transform="rotate(10 1300.5 514)"/>
<ellipse cx="1293" cy="517.75" rx="3" ry="7" fill="url(#gd)" stroke="#6e1218" stroke-width="0.5"/>
<rect x="1254.75" y="509.25" width="13" height="16" rx="5.85" ry="6.24" fill="url(#gd)" stroke="#6e1218" stroke-width="0.5"/><ellipse cx="1261.25" cy="517.65" rx="2.73" ry="3.36" fill="none" stroke="#fff" stroke-width="0.55" opacity="0.6"/><ellipse cx="1261.25" cy="517.65" rx="1.17" ry="1.44" fill="none" stroke="#fff" stroke-width="0.55" opacity="0.7"/>
<rect x="1179.75" y="508.75" width="14" height="18" rx="6.3" ry="7.02" fill="url(#gd)" stroke="#6e1218" stroke-width="0.5"/><ellipse cx="1186.75" cy="518.15" rx="2.94" ry="3.78" fill="none" stroke="#fff" stroke-width="0.55" opacity="0.6"/><ellipse cx="1186.75" cy="518.15" rx="1.26" ry="1.62" fill="none" stroke="#fff" stroke-width="0.55" opacity="0.7"/>
<rect x="1201.5" y="508.75" width="13" height="18" rx="5.85" ry="7.02" fill="url(#gd)" stroke="#6e1218" stroke-width="0.5"/><ellipse cx="1208" cy="518.15" rx="2.73" ry="3.78" fill="none" stroke="#fff" stroke-width="0.55" opacity="0.6"/><ellipse cx="1208" cy="518.15" rx="1.17" ry="1.62" fill="none" stroke="#fff" stroke-width="0.55" opacity="0.7"/>
<g><ellipse cx="1220.5" cy="518.25" rx="3" ry="7.5" fill="#a22a18" stroke="#5a1230" stroke-width="0.6"/><ellipse cx="1220.5" cy="518.25" rx="1.08" ry="4.12" fill="#fff" opacity="0.9"/></g>
<ellipse cx="1168" cy="564" rx="5.5" ry="10" fill="url(#gm)" stroke="#6e1218" stroke-width="0.5"/>
<rect x="1200.5" y="555.5" width="14" height="17" rx="6.3" ry="6.63" fill="url(#gd)" stroke="#6e1218" stroke-width="0.5"/><ellipse cx="1207.5" cy="564.4" rx="2.94" ry="3.57" fill="none" stroke="#fff" stroke-width="0.55" opacity="0.6"/><ellipse cx="1207.5" cy="564.4" rx="1.26" ry="1.53" fill="none" stroke="#fff" stroke-width="0.55" opacity="0.7"/>
<g><ellipse cx="1261.75" cy="575.25" rx="3.5" ry="3.5" fill="#a22a18" stroke="#5a1230" stroke-width="0.6"/><ellipse cx="1261.75" cy="575.25" rx="1.26" ry="1.93" fill="#fff" opacity="0.9"/></g>
<ellipse cx="1293" cy="564" rx="5" ry="10" fill="url(#gm)" stroke="#6e1218" stroke-width="0.5"/>
<rect x="1291.5" y="566" width="18" height="24" rx="8.1" ry="9.36" fill="url(#go)" stroke="#6e1218" stroke-width="0.5" transform="rotate(15 1300.5 578)"/><path d="M1298.7 578.8q1.2 -2.6 3.4 -1.2M1299.7 579.2l1.6 -1" stroke="#fff" stroke-width="0.7" fill="none" opacity="0.85" transform="rotate(15 1300.5 578)"/>
<ellipse cx="1369.25" cy="574.5" rx="5.5" ry="10" fill="url(#gm)" stroke="#6e1218" stroke-width="0.5"/>
<ellipse cx="1319.25" cy="597" rx="5" ry="8.5" fill="url(#gd)" stroke="#6e1218" stroke-width="0.5"/>
<rect x="1465.3" y="429" width="12" height="16" rx="5.4" ry="6.24" fill="url(#gd)" stroke="#6e1218" stroke-width="0.5"/><ellipse cx="1471.3" cy="437.4" rx="2.52" ry="3.36" fill="none" stroke="#fff" stroke-width="0.55" opacity="0.6"/><ellipse cx="1471.3" cy="437.4" rx="1.08" ry="1.44" fill="none" stroke="#fff" stroke-width="0.55" opacity="0.7"/>
<ellipse cx="1559.1" cy="437" rx="5" ry="9" fill="url(#gm)" stroke="#6e1218" stroke-width="0.5"/>
<ellipse cx="1590.4" cy="437" rx="5" ry="8.5" fill="url(#gm)" stroke="#6e1218" stroke-width="0.5"/>
<ellipse cx="1436.5" cy="487.25" rx="5" ry="10" fill="url(#gm)" stroke="#6e1218" stroke-width="0.5"/>
<ellipse cx="1682.3" cy="501" rx="5" ry="9" fill="url(#gd)" stroke="#6e1218" stroke-width="0.5"/>
<ellipse cx="1688" cy="517.25" rx="5" ry="9.5" fill="url(#gm)" stroke="#6e1218" stroke-width="0.5"/>
<rect x="1450.5" y="509.25" width="13" height="16" rx="5.85" ry="6.24" fill="url(#gd)" stroke="#6e1218" stroke-width="0.5"/><ellipse cx="1457" cy="517.65" rx="2.73" ry="3.36" fill="none" stroke="#fff" stroke-width="0.55" opacity="0.6"/><ellipse cx="1457" cy="517.65" rx="1.17" ry="1.44" fill="none" stroke="#fff" stroke-width="0.55" opacity="0.7"/>
<rect x="1521.1" y="502" width="12" height="24" rx="5.4" ry="9.36" fill="url(#gy)" stroke="#6e1218" stroke-width="0.5"/><path d="M1525.3 514.8q1.2 -2.6 3.4 -1.2M1526.3 515.2l1.6 -1" stroke="#fff" stroke-width="0.7" fill="none" opacity="0.85"/>
<ellipse cx="1796.9" cy="501" rx="5" ry="10" fill="url(#gb)" stroke="#6e1218" stroke-width="0.5"/>
<ellipse cx="1796.9" cy="574" rx="5" ry="10" fill="url(#gb)" stroke="#6e1218" stroke-width="0.5"/>
<ellipse cx="1444" cy="574" rx="5" ry="9" fill="url(#gm)" stroke="#6e1218" stroke-width="0.5"/>
<ellipse cx="1435.8" cy="596.25" rx="5" ry="9" fill="url(#gm)" stroke="#6e1218" stroke-width="0.5"/>
<ellipse cx="1559.1" cy="595.5" rx="5.5" ry="9.5" fill="url(#gb)" stroke="#6e1218" stroke-width="0.5"/>
<ellipse cx="1041" cy="647" rx="4.5" ry="9" fill="url(#gm)" stroke="#6e1218" stroke-width="0.5"/>
<ellipse cx="1221" cy="646.25" rx="4.5" ry="9" fill="url(#gd)" stroke="#6e1218" stroke-width="0.5"/>
<path d="M1182.1 646C1184.3 645.42 1191.03 644.97 1193.2 645.6C1195.37 646.23 1194.85 647.57 1195.1 649.8C1195.35 652.03 1195.08 656.4 1194.7 659C1194.32 661.6 1194.27 664.27 1192.8 665.4C1191.33 666.53 1187.68 665.1 1185.9 665.8C1184.12 666.5 1183.37 668.6 1182.1 669.6C1180.83 670.6 1179.45 671.8 1178.3 671.8C1177.15 671.8 1175.77 670.6 1175.2 669.6C1174.63 668.6 1174.45 666.93 1174.9 665.8C1175.35 664.67 1177.2 664.57 1177.9 662.8C1178.6 661.03 1178.75 657.48 1179.1 655.2C1179.45 652.92 1179.5 650.63 1180 649.1C1180.5 647.57 1179.9 646.58 1182.1 646Z" fill="url(#pg6)" stroke="#6e1218" stroke-width="0.5"/><path d="M1184.9 656.8q1.2 -2.6 3.4 -1.2M1185.9 657.2l1.6 -1" stroke="#fff" stroke-width="0.7" fill="none" opacity="0.85"/>
<path d="M1205 656.3C1207.23 655.6 1212.93 655.6 1214.9 656.3C1216.87 657 1216.55 658.28 1216.8 660.5C1217.05 662.72 1216.97 667.18 1216.4 669.6C1215.83 672.02 1215.68 673.53 1213.4 675C1211.12 676.47 1205.12 678.15 1202.7 678.4C1200.28 678.65 1200.02 677.83 1198.9 676.5C1197.78 675.17 1195.88 672.18 1196 670.4C1196.12 668.62 1198.68 667.45 1199.6 665.8C1200.52 664.15 1200.6 662.08 1201.5 660.5C1202.4 658.92 1202.77 657 1205 656.3Z" fill="url(#pg7)" stroke="#6e1218" stroke-width="0.5"/><path d="M1205.2 668.3q1.2 -2.6 3.4 -1.2M1206.2 668.7l1.6 -1" stroke="#fff" stroke-width="0.7" fill="none" opacity="0.85"/>
<ellipse cx="1241" cy="661.75" rx="5" ry="9.5" fill="url(#gd)" stroke="#6e1218" stroke-width="0.5"/>
<ellipse cx="1168.5" cy="669.5" rx="1.5" ry="1.2" fill="url(#gd)" stroke="#6e1218" stroke-width="0.5"/>
<ellipse cx="1168" cy="694.5" rx="5" ry="9" fill="url(#gd)" stroke="#6e1218" stroke-width="0.5"/>
<ellipse cx="1283.75" cy="602.5" rx="3" ry="5" fill="url(#gd)" stroke="#6e1218" stroke-width="0.5"/>
<ellipse cx="1290.5" cy="602.5" rx="4" ry="5.5" fill="url(#gd)" stroke="#6e1218" stroke-width="0.5"/>
<ellipse cx="1369.25" cy="660" rx="5.5" ry="10" fill="url(#gm)" stroke="#6e1218" stroke-width="0.5"/>
<g><ellipse cx="1376.75" cy="646.25" rx="4.5" ry="7" fill="#a22a18" stroke="#5a1230" stroke-width="0.6"/><ellipse cx="1376.75" cy="646.55" rx="3.24" ry="5.04" fill="none" stroke="#fff" stroke-width="0.6" opacity="0.75"/><ellipse cx="1376.75" cy="646.55" rx="2.02" ry="3.15" fill="none" stroke="#fff" stroke-width="0.6" opacity="0.75"/><ellipse cx="1376.75" cy="646.55" rx="0.9" ry="1.4" fill="none" stroke="#fff" stroke-width="0.6" opacity="0.75"/></g>
<ellipse cx="1293.8" cy="722.5" rx="3.3" ry="7.2" fill="url(#gd)" stroke="#6e1218" stroke-width="0.5"/>
<ellipse cx="1319.5" cy="723.25" rx="4.7" ry="9.5" fill="url(#gm)" stroke="#6e1218" stroke-width="0.5"/>
<g><ellipse cx="1202.5" cy="733.25" rx="5.5" ry="6" fill="#a22a18" stroke="#5a1230" stroke-width="0.6"/><ellipse cx="1202.5" cy="733.55" rx="3.96" ry="4.32" fill="none" stroke="#fff" stroke-width="0.6" opacity="0.75"/><ellipse cx="1202.5" cy="733.55" rx="2.48" ry="2.7" fill="none" stroke="#fff" stroke-width="0.6" opacity="0.75"/><ellipse cx="1202.5" cy="733.55" rx="1.1" ry="1.2" fill="none" stroke="#fff" stroke-width="0.6" opacity="0.75"/></g>
<ellipse cx="1294.25" cy="644.5" rx="0.8" ry="0.8" fill="#2a2a80"/>
<rect x="1449.5" y="608" width="15" height="18" rx="6.75" ry="7.02" fill="url(#gd)" stroke="#6e1218" stroke-width="0.5"/><ellipse cx="1457" cy="617.4" rx="3.15" ry="3.78" fill="none" stroke="#fff" stroke-width="0.55" opacity="0.6"/><ellipse cx="1457" cy="617.4" rx="1.35" ry="1.62" fill="none" stroke="#fff" stroke-width="0.55" opacity="0.7"/>
<g><ellipse cx="1527.1" cy="660.75" rx="2.5" ry="6" fill="#a22a18" stroke="#5a1230" stroke-width="0.6"/><ellipse cx="1527.1" cy="660.75" rx="0.9" ry="3.3" fill="#fff" opacity="0.9"/></g>
<rect x="1678" y="652" width="15.2" height="18.8" rx="6.84" ry="7.33" fill="url(#gd)" stroke="#6e1218" stroke-width="0.5"/><ellipse cx="1685.6" cy="661.8" rx="3.19" ry="3.95" fill="none" stroke="#fff" stroke-width="0.55" opacity="0.6"/><ellipse cx="1685.6" cy="661.8" rx="1.37" ry="1.69" fill="none" stroke="#fff" stroke-width="0.55" opacity="0.7"/>
<g><ellipse cx="1797.4" cy="660.75" rx="2.5" ry="5.5" fill="#a22a18" stroke="#5a1230" stroke-width="0.6"/><ellipse cx="1797.4" cy="660.75" rx="0.9" ry="3.03" fill="#fff" opacity="0.9"/></g>
<rect x="1464.8" y="686.5" width="13" height="16" rx="5.85" ry="6.24" fill="url(#gd)" stroke="#6e1218" stroke-width="0.5"/><ellipse cx="1471.3" cy="694.9" rx="2.73" ry="3.36" fill="none" stroke="#fff" stroke-width="0.55" opacity="0.6"/><ellipse cx="1471.3" cy="694.9" rx="1.17" ry="1.44" fill="none" stroke="#fff" stroke-width="0.55" opacity="0.7"/>
<path d="M1559.1 689.5Q1561.6 691.75 1561.6 694.5Q1561.6 697.25 1559.1 699.5Q1556.6 697.25 1556.6 694.5Q1556.6 691.75 1559.1 689.5Z" fill="#9c1e12" stroke="#4a1440" stroke-width="0.5"/>
</g>
<g stroke="#a4a4a4" stroke-width="2.3" fill="none">
<path d="M1221.0 49.4V60.7M1221.0 73.0V84.2M1221.0 96.5V107.8M1221.0 120.0V131.3M1221.0 143.6V154.9M1221.0 184.1V195.4M1221.0 207.7V219.0M1221.0 231.2V242.5M1221.0 254.8V266.1M1221.0 278.3V289.6M1221.0 301.9V313.2M1221.0 325.4V336.7M1221.0 349.0V360.3M1221.0 372.5V383.8M1221.0 396.1V407.4M1221.0 419.6V430.9M1221.0 443.2V454.5M1221.0 466.7V478.0M1221.0 490.3V501.6M1221.0 513.8V525.1M1221.0 537.4V548.6M1221.0 560.9V572.2M1221.0 584.4V595.7M1221.0 608.0V619.3M1221.0 631.5V642.8M1221.0 655.1V666.4M1221.0 678.6V689.9M1221.0 702.2V713.5M1221.0 725.7V737.0M1221.0 749.3V760.2"/>
<path d="M1294.2 49.4V60.7M1294.2 73.0V84.2M1294.2 96.5V107.8M1294.2 120.0V131.3M1294.2 143.6V154.9M1294.2 184.1V195.4M1294.2 207.7V219.0M1294.2 231.2V242.5M1294.2 254.8V266.1M1294.2 278.3V289.6M1294.2 301.9V313.2M1294.2 325.4V336.7M1294.2 349.0V360.3M1294.2 372.5V383.8M1294.2 396.1V407.4M1294.2 419.6V430.9M1294.2 443.2V454.5M1294.2 466.7V478.0M1294.2 490.3V501.6M1294.2 513.8V525.1M1294.2 537.4V548.6M1294.2 560.9V572.2M1294.2 584.4V595.7M1294.2 608.0V619.3M1294.2 631.5V642.8M1294.2 655.1V666.4M1294.2 678.6V689.9M1294.2 702.2V713.5M1294.2 725.7V737.0M1294.2 749.3V760.2"/>
<path d="M1527.1 49.4V60.7M1527.1 73.0V84.2M1527.1 96.5V107.8M1527.1 120.0V131.3M1527.1 143.6V154.9M1527.1 184.1V195.4M1527.1 207.7V219.0M1527.1 231.2V242.5M1527.1 254.8V266.1M1527.1 278.3V289.6M1527.1 301.9V313.2M1527.1 325.4V336.7M1527.1 349.0V360.3M1527.1 372.5V383.8M1527.1 396.1V407.4M1527.1 419.6V430.9M1527.1 443.2V454.5M1527.1 466.7V478.0M1527.1 490.3V501.6M1527.1 513.8V525.1M1527.1 537.4V548.6M1527.1 560.9V572.2M1527.1 584.4V595.7M1527.1 608.0V619.3M1527.1 631.5V642.8M1527.1 655.1V666.4M1527.1 678.6V689.9M1527.1 702.2V713.5M1527.1 725.7V737.0M1527.1 749.3V760.2"/>
<path d="M1559.6 49.4V60.7M1559.6 73.0V84.2M1559.6 96.5V107.8M1559.6 120.0V131.3M1559.6 143.6V154.9M1559.6 184.1V195.4M1559.6 207.7V219.0M1559.6 231.2V242.5M1559.6 254.8V266.1M1559.6 278.3V289.6M1559.6 301.9V313.2M1559.6 325.4V336.7M1559.6 349.0V360.3M1559.6 372.5V383.8M1559.6 396.1V407.4M1559.6 419.6V430.9M1559.6 443.2V454.5M1559.6 466.7V478.0M1559.6 490.3V501.6M1559.6 513.8V525.1M1559.6 537.4V548.6M1559.6 560.9V572.2M1559.6 584.4V595.7M1559.6 608.0V619.3M1559.6 631.5V642.8M1559.6 655.1V666.4M1559.6 678.6V689.9M1559.6 702.2V713.5M1559.6 725.7V737.0M1559.6 749.3V760.2"/>
<path d="M1797.4 49.4V60.7M1797.4 73.0V84.2M1797.4 96.5V107.8M1797.4 120.0V131.3M1797.4 143.6V154.9M1797.4 184.1V195.4M1797.4 207.7V219.0M1797.4 231.2V242.5M1797.4 254.8V266.1M1797.4 278.3V289.6M1797.4 301.9V313.2M1797.4 325.4V336.7M1797.4 349.0V360.3M1797.4 372.5V383.8M1797.4 396.1V407.4M1797.4 419.6V430.9M1797.4 443.2V454.5M1797.4 466.7V478.0M1797.4 490.3V501.6M1797.4 513.8V525.1M1797.4 537.4V548.6M1797.4 560.9V572.2M1797.4 584.4V595.7M1797.4 608.0V619.3M1797.4 631.5V642.8M1797.4 655.1V666.4M1797.4 678.6V689.9M1797.4 702.2V713.5M1797.4 725.7V737.0M1797.4 749.3V760.2"/>
</g>
<g stroke="#8fa958" stroke-width="2.25" fill="none" stroke-linejoin="miter">
<path d="M1041 647.5H1376V472.75H1261.75V517.25H1300.5V510.25H1241V662.5H1682.3V501H1401.75V487.75H1436.5V548"/>
<path d="M1436.5 572V596.25H1319.75V722.5"/>
</g>
<g stroke="#55647f" stroke-width="2.25" fill="none" stroke-linejoin="miter">
<path d="M1188 517.75H1208V564H1168V693.75H1471.5V437H1591V175.2"/>
<path d="M1591 155V97.2H1444.5V155"/>
<path d="M1444.5 175.2V574.5H1370V660H1688V517.25H1457.8V616"/>
</g>
<path d="M1444.5 157V172M1591 157V172" stroke="#55647f" stroke-width="2.25" stroke-dasharray="4 2.5 1.5 2.5" fill="none"/>
<g stroke="#000" stroke-width="2.3" fill="none" stroke-linecap="butt">
<path d="M1000.5 37.050000000000004V155H1849V38.2H1000.5"/>
<rect x="1000.5" y="175.2" width="848.5" height="585"/>
</g>
<path d="M1849 75.84h7.2M1849 125.46h7.2M1849 175.08h7.2M1849 224.70h7.2M1849 274.32h7.2M1849 323.94h7.2M1849 373.56h7.2M1849 423.18h7.2M1849 472.80h7.2M1849 522.42h7.2M1849 572.04h7.2M1849 621.66h7.2M1849 671.28h7.2M1849 720.90h7.2" stroke="#000" stroke-width="2.1" fill="none"/>
<path d="M1849 41.11h1.5M1849 46.07h1.5M1849 51.03h1.5M1849 55.99h1.5M1849 60.95h1.5M1849 65.92h1.5M1849 70.88h1.5M1849 80.80h1.5M1849 85.76h1.5M1849 90.73h1.5M1849 95.69h1.5M1849 100.65h1.5M1849 105.61h1.5M1849 110.57h1.5M1849 115.54h1.5M1849 120.50h1.5M1849 130.42h1.5M1849 135.38h1.5M1849 140.35h1.5M1849 145.31h1.5M1849 150.27h1.5M1849 155.23h1.5M1849 180.04h1.5M1849 185.00h1.5M1849 189.97h1.5M1849 194.93h1.5M1849 199.89h1.5M1849 204.85h1.5M1849 209.81h1.5M1849 214.78h1.5M1849 219.74h1.5M1849 229.66h1.5M1849 234.62h1.5M1849 239.59h1.5M1849 244.55h1.5M1849 249.51h1.5M1849 254.47h1.5M1849 259.43h1.5M1849 264.40h1.5M1849 269.36h1.5M1849 279.28h1.5M1849 284.24h1.5M1849 289.21h1.5M1849 294.17h1.5M1849 299.13h1.5M1849 304.09h1.5M1849 309.05h1.5M1849 314.02h1.5M1849 318.98h1.5M1849 328.90h1.5M1849 333.86h1.5M1849 338.83h1.5M1849 343.79h1.5M1849 348.75h1.5M1849 353.71h1.5M1849 358.67h1.5M1849 363.64h1.5M1849 368.60h1.5M1849 378.52h1.5M1849 383.48h1.5M1849 388.45h1.5M1849 393.41h1.5M1849 398.37h1.5M1849 403.33h1.5M1849 408.29h1.5M1849 413.26h1.5M1849 418.22h1.5M1849 428.14h1.5M1849 433.10h1.5M1849 438.07h1.5M1849 443.03h1.5M1849 447.99h1.5M1849 452.95h1.5M1849 457.91h1.5M1849 462.88h1.5M1849 467.84h1.5M1849 477.76h1.5M1849 482.72h1.5M1849 487.69h1.5M1849 492.65h1.5M1849 497.61h1.5M1849 502.57h1.5M1849 507.53h1.5M1849 512.50h1.5M1849 517.46h1.5M1849 527.38h1.5M1849 532.34h1.5M1849 537.31h1.5M1849 542.27h1.5M1849 547.23h1.5M1849 552.19h1.5M1849 557.15h1.5M1849 562.12h1.5M1849 567.08h1.5M1849 577.00h1.5M1849 581.96h1.5M1849 586.93h1.5M1849 591.89h1.5M1849 596.85h1.5M1849 601.81h1.5M1849 606.77h1.5M1849 611.74h1.5M1849 616.70h1.5M1849 626.62h1.5M1849 631.58h1.5M1849 636.55h1.5M1849 641.51h1.5M1849 646.47h1.5M1849 651.43h1.5M1849 656.39h1.5M1849 661.36h1.5M1849 666.32h1.5M1849 676.24h1.5M1849 681.20h1.5M1849 686.17h1.5M1849 691.13h1.5M1849 696.09h1.5M1849 701.05h1.5M1849 706.01h1.5M1849 710.98h1.5M1849 715.94h1.5M1849 725.86h1.5M1849 730.82h1.5M1849 735.79h1.5M1849 740.75h1.5M1849 745.71h1.5M1849 750.67h1.5M1849 755.63h1.5M1849 760.60h1.5" stroke="#000" stroke-width="2" stroke-linecap="round" fill="none"/>
<path d="M1849.00 760.2v7.6M1799.09 760.2v7.6M1749.18 760.2v7.6M1699.27 760.2v7.6M1649.36 760.2v7.6M1599.44 760.2v7.6M1549.53 760.2v7.6M1499.62 760.2v7.6M1449.71 760.2v7.6M1399.80 760.2v7.6M1349.88 760.2v7.6M1299.97 760.2v7.6M1250.06 760.2v7.6M1200.15 760.2v7.6M1150.24 760.2v7.6M1100.32 760.2v7.6M1050.41 760.2v7.6M1000.50 760.2v7.6" stroke="#000" stroke-width="2.1" fill="none"/>
<path d="M1844.01 760.2v1.5M1839.02 760.2v1.5M1834.03 760.2v1.5M1829.04 760.2v1.5M1824.05 760.2v1.5M1819.06 760.2v1.5M1814.07 760.2v1.5M1809.07 760.2v1.5M1804.08 760.2v1.5M1794.10 760.2v1.5M1789.11 760.2v1.5M1784.12 760.2v1.5M1779.13 760.2v1.5M1774.14 760.2v1.5M1769.14 760.2v1.5M1764.15 760.2v1.5M1759.16 760.2v1.5M1754.17 760.2v1.5M1744.19 760.2v1.5M1739.20 760.2v1.5M1734.21 760.2v1.5M1729.22 760.2v1.5M1724.22 760.2v1.5M1719.23 760.2v1.5M1714.24 760.2v1.5M1709.25 760.2v1.5M1704.26 760.2v1.5M1694.28 760.2v1.5M1689.29 760.2v1.5M1684.29 760.2v1.5M1679.30 760.2v1.5M1674.31 760.2v1.5M1669.32 760.2v1.5M1664.33 760.2v1.5M1659.34 760.2v1.5M1654.35 760.2v1.5M1644.36 760.2v1.5M1639.37 760.2v1.5M1634.38 760.2v1.5M1629.39 760.2v1.5M1624.40 760.2v1.5M1619.41 760.2v1.5M1614.42 760.2v1.5M1609.43 760.2v1.5M1604.44 760.2v1.5M1594.45 760.2v1.5M1589.46 760.2v1.5M1584.47 760.2v1.5M1579.48 760.2v1.5M1574.49 760.2v1.5M1569.50 760.2v1.5M1564.51 760.2v1.5M1559.51 760.2v1.5M1554.52 760.2v1.5M1544.54 760.2v1.5M1539.55 760.2v1.5M1534.56 760.2v1.5M1529.57 760.2v1.5M1524.58 760.2v1.5M1519.58 760.2v1.5M1514.59 760.2v1.5M1509.60 760.2v1.5M1504.61 760.2v1.5M1494.63 760.2v1.5M1489.64 760.2v1.5M1484.65 760.2v1.5M1479.66 760.2v1.5M1474.66 760.2v1.5M1469.67 760.2v1.5M1464.68 760.2v1.5M1459.69 760.2v1.5M1454.70 760.2v1.5M1444.72 760.2v1.5M1439.73 760.2v1.5M1434.73 760.2v1.5M1429.74 760.2v1.5M1424.75 760.2v1.5M1419.76 760.2v1.5M1414.77 760.2v1.5M1409.78 760.2v1.5M1404.79 760.2v1.5M1394.80 760.2v1.5M1389.81 760.2v1.5M1384.82 760.2v1.5M1379.83 760.2v1.5M1374.84 760.2v1.5M1369.85 760.2v1.5M1364.86 760.2v1.5M1359.87 760.2v1.5M1354.88 760.2v1.5M1344.89 760.2v1.5M1339.90 760.2v1.5M1334.91 760.2v1.5M1329.92 760.2v1.5M1324.93 760.2v1.5M1319.94 760.2v1.5M1314.95 760.2v1.5M1309.95 760.2v1.5M1304.96 760.2v1.5M1294.98 760.2v1.5M1289.99 760.2v1.5M1285.00 760.2v1.5M1280.01 760.2v1.5M1275.02 760.2v1.5M1270.02 760.2v1.5M1265.03 760.2v1.5M1260.04 760.2v1.5M1255.05 760.2v1.5M1245.07 760.2v1.5M1240.08 760.2v1.5M1235.09 760.2v1.5M1230.10 760.2v1.5M1225.10 760.2v1.5M1220.11 760.2v1.5M1215.12 760.2v1.5M1210.13 760.2v1.5M1205.14 760.2v1.5M1195.16 760.2v1.5M1190.17 760.2v1.5M1185.17 760.2v1.5M1180.18 760.2v1.5M1175.19 760.2v1.5M1170.20 760.2v1.5M1165.21 760.2v1.5M1160.22 760.2v1.5M1155.23 760.2v1.5M1145.24 760.2v1.5M1140.25 760.2v1.5M1135.26 760.2v1.5M1130.27 760.2v1.5M1125.28 760.2v1.5M1120.29 760.2v1.5M1115.30 760.2v1.5M1110.31 760.2v1.5M1105.32 760.2v1.5M1095.33 760.2v1.5M1090.34 760.2v1.5M1085.35 760.2v1.5M1080.36 760.2v1.5M1075.37 760.2v1.5M1070.38 760.2v1.5M1065.39 760.2v1.5M1060.39 760.2v1.5M1055.40 760.2v1.5M1045.42 760.2v1.5M1040.43 760.2v1.5M1035.44 760.2v1.5M1030.45 760.2v1.5M1025.46 760.2v1.5M1020.46 760.2v1.5M1015.47 760.2v1.5M1010.48 760.2v1.5M1005.49 760.2v1.5" stroke="#000" stroke-width="2" stroke-linecap="round" fill="none"/>
<g font-size="16.4" text-anchor="middle">
<text x="1799.1" y="784.9">6.9</text>
<text x="1749.2" y="784.9">7.0</text>
<text x="1699.3" y="784.9">7.1</text>
<text x="1649.4" y="784.9">7.2</text>
<text x="1599.4" y="784.9">7.3</text>
<text x="1549.5" y="784.9">7.4</text>
<text x="1499.6" y="784.9">7.5</text>
<text x="1449.7" y="784.9">7.6</text>
<text x="1399.8" y="784.9">7.7</text>
<text x="1349.9" y="784.9">7.8</text>
<text x="1300.0" y="784.9">7.9</text>
<text x="1250.1" y="784.9">8.0</text>
<text x="1200.1" y="784.9">8.1</text>
<text x="1150.2" y="784.9">8.2</text>
<text x="1100.3" y="784.9">8.3</text>
<text x="1050.4" y="784.9">8.4</text>
</g>
<g font-size="16.4" text-anchor="start">
<text x="1860.2" y="81.9">4.7</text>
<text x="1860.2" y="131.6">4.8</text>
<text x="1860.2" y="181.2">4.9</text>
<text x="1860.2" y="230.8">5.0</text>
<text x="1860.2" y="280.4">5.1</text>
<text x="1860.2" y="330.0">5.2</text>
<text x="1860.2" y="379.7">5.3</text>
<text x="1860.2" y="429.3">5.4</text>
<text x="1860.2" y="478.9">5.5</text>
<text x="1860.2" y="528.5">5.6</text>
<text x="1860.2" y="578.1">5.7</text>
<text x="1860.2" y="627.8">5.8</text>
<text x="1860.2" y="677.4">5.9</text>
<text x="1860.2" y="727.0">6.0</text>
</g>
<rect x="975" y="18" width="46.10000000000002" height="43.2" fill="#fff"/>
<text x="983.7" y="47.4" font-size="34.5">b)</text>
<text x="1184" y="31" font-size="18.6">A10:H2</text>
<text x="1282" y="31" font-size="18.6">A18:H2</text>
<text x="1491" y="31" font-size="18.6">A7:H2</text>
<text x="1554" y="31" font-size="18.6">A3:H2</text>
<text x="1774" y="31" font-size="18.6">A14:H2</text>
<text x="1861" y="34.5" font-size="16.8">ppm</text>
<text x="1859" y="783.4" font-size="16.8">ppm</text>
<text x="1594" y="97" font-size="18.8"><tspan class="psi" font-size="18.8">Ψ</tspan>5</text>
<text x="1457" y="426" font-size="18.8">C4</text>
<text x="1345.8" y="461" font-size="18.8">C11</text>
<text x="1400" y="476" font-size="18.8">U16</text>
<text x="1305.5" y="502.3" font-size="18.8">G13</text>
<text x="1164" y="506" font-size="18.8">U1</text>
<text x="1665" y="489" font-size="18.8">G15</text>
<text x="1694" y="534" font-size="18.8">G8</text>
<text x="1248" y="543" font-size="18.8">U12</text>
<text x="1414.2" y="567" font-size="18.8">G6</text>
<text x="1195.2" y="589.6" font-size="18.8">C2</text>
<text x="1395" y="618" font-size="18.8">G17</text>
<text x="1439" y="642" font-size="18.8">U9</text>
<text x="1025" y="634" font-size="18.8">A10</text>
<text x="1243" y="682" font-size="18.8">A14</text>
<text x="1357" y="687" font-size="18.8">A7</text>
<text x="1138" y="715" font-size="18.8">A3</text>
<text x="1324" y="738" font-size="18.8">A18</text>
<defs>
<radialGradient id="pg0" gradientUnits="userSpaceOnUse" cx="821.5" cy="481" r="15"><stop offset="0" stop-color="#e09418"/><stop offset="0.3" stop-color="#d26e12"/><stop offset="0.6" stop-color="#bc440d"/><stop offset="0.85" stop-color="#a0240a"/><stop offset="1" stop-color="#8c1908"/></radialGradient>
<radialGradient id="pg1" gradientUnits="userSpaceOnUse" cx="821.5" cy="569" r="15"><stop offset="0" stop-color="#e09418"/><stop offset="0.3" stop-color="#d26e12"/><stop offset="0.6" stop-color="#bc440d"/><stop offset="0.85" stop-color="#a0240a"/><stop offset="1" stop-color="#8c1908"/></radialGradient>
<radialGradient id="pg2" gradientUnits="userSpaceOnUse" cx="221.8" cy="629.8" r="13.5"><stop offset="0" stop-color="#a8d428"/><stop offset="0.2" stop-color="#d0dc28"/><stop offset="0.42" stop-color="#f2c420"/><stop offset="0.62" stop-color="#e08412"/><stop offset="0.85" stop-color="#b8380c"/><stop offset="1" stop-color="#961e0a"/></radialGradient>
<radialGradient id="pg3" gradientUnits="userSpaceOnUse" cx="249.3" cy="638" r="13.5"><stop offset="0" stop-color="#f2d030"/><stop offset="0.2" stop-color="#f0b820"/><stop offset="0.45" stop-color="#e08a14"/><stop offset="0.75" stop-color="#c04a0e"/><stop offset="1" stop-color="#9a200a"/></radialGradient>
<radialGradient id="pg4" gradientUnits="userSpaceOnUse" cx="1207.5" cy="71.5" r="14"><stop offset="0" stop-color="#c8600f"/><stop offset="0.32" stop-color="#b6440e"/><stop offset="0.7" stop-color="#9e260a"/><stop offset="1" stop-color="#881608"/></radialGradient>
<radialGradient id="pg5" gradientUnits="userSpaceOnUse" cx="1239.5" cy="72" r="14"><stop offset="0" stop-color="#e09418"/><stop offset="0.3" stop-color="#d26e12"/><stop offset="0.6" stop-color="#bc440d"/><stop offset="0.85" stop-color="#a0240a"/><stop offset="1" stop-color="#8c1908"/></radialGradient>
<radialGradient id="pg6" gradientUnits="userSpaceOnUse" cx="1187" cy="656.2" r="12.5"><stop offset="0" stop-color="#a8d428"/><stop offset="0.2" stop-color="#d0dc28"/><stop offset="0.42" stop-color="#f2c420"/><stop offset="0.62" stop-color="#e08412"/><stop offset="0.85" stop-color="#b8380c"/><stop offset="1" stop-color="#961e0a"/></radialGradient>
<radialGradient id="pg7" gradientUnits="userSpaceOnUse" cx="1207" cy="667.3" r="12.5"><stop offset="0" stop-color="#f2d030"/><stop offset="0.2" stop-color="#f0b820"/><stop offset="0.45" stop-color="#e08a14"/><stop offset="0.75" stop-color="#c04a0e"/><stop offset="1" stop-color="#9a200a"/></radialGradient>
</defs>
</svg></body></html>
